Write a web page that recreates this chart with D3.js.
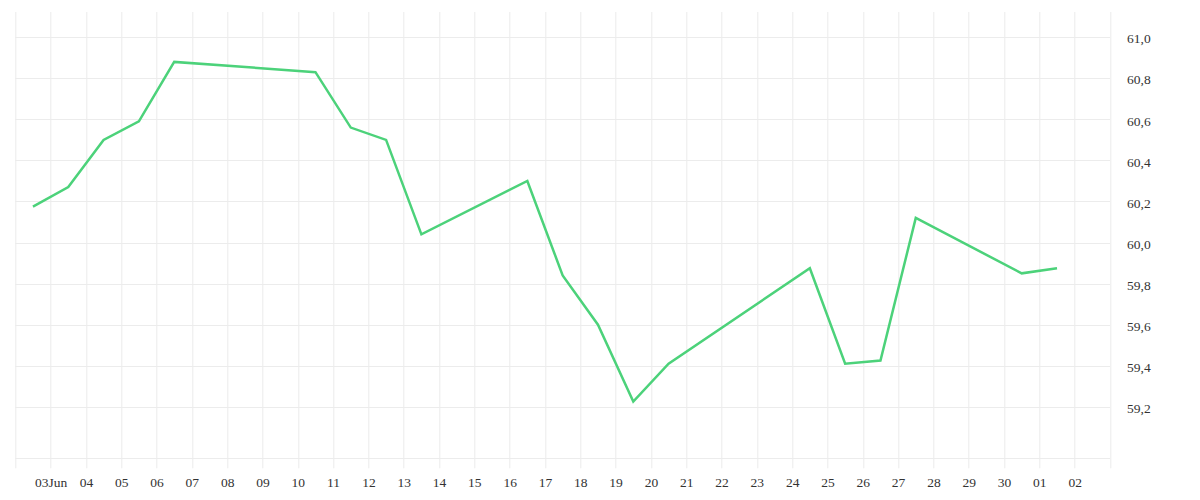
<!DOCTYPE html>
<html>
<head>
<meta charset="utf-8">
<script src="https://cdn.jsdelivr.net/npm/d3@7"></script>
<style>
  body { margin: 0; background: #fff; }
  svg { display: block; }
  .tick text { font-family: "Liberation Serif", serif; font-size: 13.5px; fill: #333; }
</style>
</head>
<body>
<div id="wrapper"></div>
<script>
// trading days and closing values
const dates = [
  "2025-06-02", "2025-06-03", "2025-06-04", "2025-06-05", "2025-06-06",
  "2025-06-10", "2025-06-11", "2025-06-12", "2025-06-13",
  "2025-06-16", "2025-06-17", "2025-06-18", "2025-06-19", "2025-06-20",
  "2025-06-24", "2025-06-25", "2025-06-26", "2025-06-27",
  "2025-06-30", "2025-07-01"
]
const values = [
  60.175, 60.27, 60.50, 60.59, 60.88,
  60.83, 60.56, 60.50, 60.04,
  60.30, 59.84, 59.60, 59.225, 59.41,
  59.875, 59.41, 59.425, 60.12,
  59.85, 59.875
]
const yTicks = [59.2, 59.4, 59.6, 59.8, 60.0, 60.2, 60.4, 60.6, 60.8, 61.0]
const xStart = "2025-06-02"
const xEnd = "2025-07-03"

function drawChart() {
  let dimensions = {
    width: 1200,
    height: 500,
    margin: { top: 12, right: 90, bottom: 41.7, left: 15.3 }
  }
  dimensions.boundedWidth = dimensions.width - dimensions.margin.left - dimensions.margin.right
  dimensions.boundedHeight = dimensions.height - dimensions.margin.top - dimensions.margin.bottom

  const parse = d3.utcParse("%Y-%m-%d")
  // points sit at midday of each trading day
  const dataset = dates.map((d, i) => ({ date: d3.utcHour.offset(parse(d), 12), value: values[i] }))

  const xScale = d3.scaleUtc()
    .domain([parse(xStart), parse(xEnd)])
    .range([0, dimensions.boundedWidth])

  const yScale = d3.scaleLinear()
    .domain([58.949, 61.123])
    .range([dimensions.boundedHeight, 0])

  const svg = d3.select("#wrapper").append("svg")
    .attr("width", dimensions.width)
    .attr("height", dimensions.height)

  const bounds = svg.append("g")
    .attr("transform", `translate(${dimensions.margin.left},${dimensions.margin.top})`)

  const days = d3.utcDay.range(parse(xStart), d3.utcDay.offset(parse(xEnd), 1))

  // grid
  const grid = bounds.append("g").attr("stroke", "#ececec").attr("stroke-width", 1)
  grid.selectAll(".vgrid").data(days).join("line")
    .attr("class", "vgrid")
    .attr("x1", d => Math.round(xScale(d)) + 0.5)
    .attr("x2", d => Math.round(xScale(d)) + 0.5)
    .attr("y1", 0)
    .attr("y2", dimensions.boundedHeight + 10)
  grid.selectAll(".hgrid").data(yTicks.concat([yScale.domain()[0]])).join("line")
    .attr("class", "hgrid")
    .attr("x1", 0)
    .attr("x2", dimensions.boundedWidth)
    .attr("y1", d => Math.round(yScale(d)) + 0.5)
    .attr("y2", d => Math.round(yScale(d)) + 0.5)

  // x labels
  const labelDays = days.slice(1, -1)
  const dayFormat = d3.utcFormat("%d")
  const xAxis = d3.axisBottom(xScale)
    .tickValues(labelDays)
    .tickSize(0)
    .tickPadding(19)
    .tickFormat((d, i) => i === 0 ? dayFormat(d) + "Jun" : dayFormat(d))
  bounds.append("g")
    .attr("transform", `translate(0,${dimensions.boundedHeight})`)
    .call(xAxis)
    .call(g => g.select(".domain").remove())

  // y labels with comma decimals
  const locale = d3.formatLocale({ decimal: ",", thousands: ".", grouping: [3], currency: ["", ""] })
  const yAxis = d3.axisRight(yScale)
    .tickValues(yTicks)
    .tickSize(0)
    .tickPadding(17)
    .tickFormat(locale.format(".1f"))
  bounds.append("g")
    .attr("transform", `translate(${dimensions.boundedWidth},0)`)
    .call(yAxis)
    .call(g => g.select(".domain").remove())
    .selectAll("text").attr("dy", "0.42em")

  // line
  const lineGenerator = d3.line()
    .x(d => xScale(d.date))
    .y(d => yScale(d.value))

  bounds.append("path")
    .datum(dataset)
    .attr("fill", "none")
    .attr("stroke", "#4cd27a")
    .attr("stroke-width", 2.5)
    .attr("stroke-linejoin", "miter")
    .attr("d", lineGenerator)
}
drawChart()
</script>
</body>
</html>
